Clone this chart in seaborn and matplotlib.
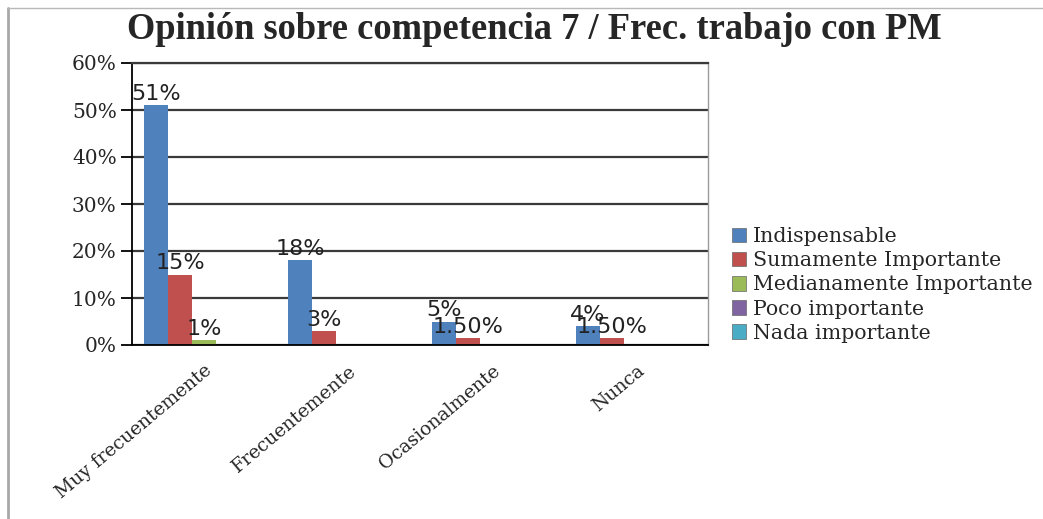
import pandas as pd
import seaborn as sns
import matplotlib.pyplot as plt
from matplotlib.lines import Line2D

# Data (percent)
frequencies = ["Muy frecuentemente", "Frecuentemente", "Ocasionalmente", "Nunca"]
indispensable = [51, 18, 5, 4]
sumamente = [15, 3, 1.5, 1.5]
medianamente = [1, 0, 0, 0]
poco = [0, 0, 0, 0]
nada = [0, 0, 0, 0]
series_names = ["Indispensable", "Sumamente Importante", "Medianamente Importante",
                "Poco importante", "Nada importante"]
colors = ["#4F81BD", "#C0504D", "#9BBB59", "#8064A2", "#4BACC6"]

rows = []
for name, vals in zip(series_names, [indispensable, sumamente, medianamente, poco, nada]):
    for freq, v in zip(frequencies, vals):
        rows.append({"Frecuencia": freq, "Opinión": name, "Valor": v})
df = pd.DataFrame(rows)

sns.set_style("white")
plt.rcParams["font.family"] = ["DejaVu Serif"]

fig = plt.figure(figsize=(10.43, 5.19), dpi=100)
ax = fig.add_axes([132 / 1043, 1 - 345 / 519, (708 - 132) / 1043, (345 - 63) / 519])

sns.barplot(data=df, x="Frecuencia", y="Valor", hue="Opinión", order=frequencies,
            hue_order=series_names, palette=colors, saturation=1, width=0.833, ax=ax,
            linewidth=0, edgecolor="none", errorbar=None, legend=False)

# value labels (skip zero bars)
for cont in ax.containers:
    labels = []
    for bar in cont:
        v = bar.get_height()
        if v == 0:
            labels.append("")
        elif float(v).is_integer():
            labels.append(f"{v:g}%")
        else:
            labels.append(f"{v:.2f}%")
    ax.bar_label(cont, labels=labels, padding=1, fontsize=16,
                 family="DejaVu Sans", color="#222222")

ax.set_ylim(0, 60)
ax.set_xlim(-0.5, 3.5)
ax.set_yticks(range(0, 61, 10))
ax.set_yticklabels([f"{t}%" for t in range(0, 61, 10)], fontsize=14.5)
ax.set_xticks(range(len(frequencies)))
ax.set_xticklabels(frequencies, rotation=40, ha="right", rotation_mode="anchor", fontsize=13.5)
ax.set_xticks([-0.5, 0.5, 1.5, 2.5, 3.5], minor=True)
ax.tick_params(axis="x", which="major", length=0, pad=12)
ax.tick_params(axis="x", which="minor", length=7, width=1.3, color="black", direction="out")
ax.tick_params(axis="y", length=8, width=1.3, color="black", direction="out", pad=3, left=True)
ax.set_xlabel("")
ax.set_ylabel("")
ax.yaxis.grid(True, color="#3a3a3a", linewidth=1.6)
ax.set_axisbelow(True)
for side in ["left", "bottom"]:
    ax.spines[side].set_color("black")
    ax.spines[side].set_linewidth(1.3)
ax.spines["top"].set_color("#3a3a3a")
ax.spines["top"].set_linewidth(1.6)
ax.spines["right"].set_color("#9a9a9a")
ax.spines["right"].set_linewidth(1)

handles = [plt.Rectangle((0, 0), 1, 1, facecolor=c, edgecolor="#666666", linewidth=0.5)
           for c in colors]
fig.legend(handles, series_names, loc="center left", bbox_to_anchor=(732 / 1043, 1 - 285 / 519),
           frameon=False, fontsize=14.8, handlelength=0.7, handleheight=0.7,
           handletextpad=0.3, labelspacing=0.25, borderaxespad=0, borderpad=0)

fig.suptitle("Opinión sobre competencia 7 / Frec. trabajo con PM", x=534 / 1043, y=1 - 12 / 519,
             va="top", fontsize=26.3, fontweight="bold", family="Liberation Serif")

# outer frame lines of the original figure
fig.add_artist(Line2D([8 / 1043, 8 / 1043], [0, 1 - 8 / 519], transform=fig.transFigure,
                      color="#a8a8a8", linewidth=2))
fig.add_artist(Line2D([8 / 1043, 1], [1 - 8 / 519, 1 - 8 / 519], transform=fig.transFigure,
                      color="#b8b8b8", linewidth=1))

fig.savefig("out.png", dpi=100, facecolor="white")
